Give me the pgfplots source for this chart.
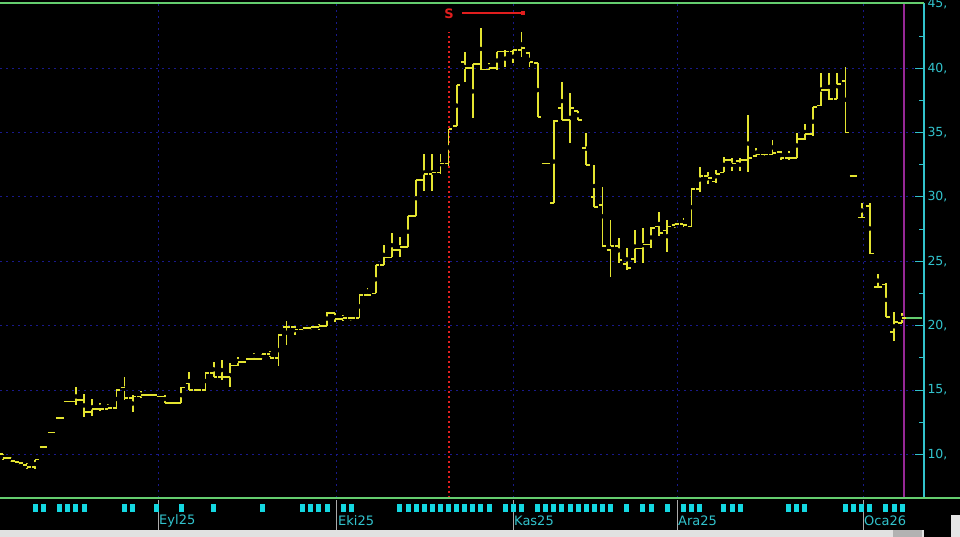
\documentclass[border=0pt]{standalone}
\usepackage{pgfplots}
\usepackage{pgfplotstable}
\pgfplotsset{compat=1.18}
\usepackage{fontspec}
\setmainfont{DejaVu Sans}
\definecolor{ylw}{RGB}{228,228,48}
\definecolor{tcyan}{RGB}{50,195,205}
\definecolor{mcyan}{RGB}{20,215,225}
\definecolor{gridblue}{RGB}{25,25,140}
\definecolor{lgreen}{RGB}{100,205,110}
\definecolor{sred}{RGB}{225,30,30}
\definecolor{purp}{RGB}{150,40,150}
\definecolor{sepgray}{RGB}{170,170,170}
\definecolor{sbgray}{RGB}{225,225,225}
\pgfdeclareplotmark{otick}{\pgfpathmoveto{\pgfqpoint{-\pgfplotmarksize}{0pt}}\pgfpathlineto{\pgfqpoint{0pt}{0pt}}\pgfusepathqstroke}
\pgfdeclareplotmark{ctick}{\pgfpathmoveto{\pgfqpoint{0pt}{0pt}}\pgfpathlineto{\pgfqpoint{\pgfplotmarksize}{0pt}}\pgfusepathqstroke}
\pgfdeclareplotmark{cbar}{\pgfpathrectangle{\pgfqpoint{-2.5pt}{-4pt}}{\pgfqpoint{5pt}{8pt}}\pgfusepathqfill}
\pgfplotstableread{
i o h l c
0 10.0 10.0 9.6 9.7
1 9.7 9.8 9.4 9.5
2 9.4 9.5 9.2 9.3
3 9.2 9.3 8.9 9.0
4 9.0 9.6 8.9 9.6
5 10.6 10.6 10.6 10.6
6 11.7 11.7 11.7 11.7
7 12.85 12.85 12.85 12.85
8 14.1 14.1 14.1 14.1
9 14.1 15.2 13.8 14.2
10 14.2 14.7 12.9 13.3
11 13.3 14.3 13.0 13.5
12 13.5 14.0 13.4 13.5
13 13.5 13.9 13.5 13.6
14 13.6 15.1 13.5 15.0
15 15.2 16.0 14.2 14.4
16 14.4 14.6 13.3 14.5
17 14.5 14.9 14.4 14.6
18 14.6 14.7 14.5 14.6
19 14.6 14.6 14.4 14.5
20 14.5 14.6 14.0 14.0
21 14.0 14.1 13.9 14.0
22 14.0 15.2 14.0 15.2
23 15.5 16.4 15.0 15.0
24 15.0 15.1 14.9 15.0
25 15.0 16.4 15.0 16.3
26 16.3 17.2 16.0 16.0
27 16.0 17.3 15.8 16.0
28 16.0 17.1 15.2 16.9
29 16.9 17.6 16.9 17.2
30 17.2 17.4 17.2 17.4
31 17.4 17.9 17.4 17.4
32 17.4 17.8 17.4 17.8
33 17.8 18.0 17.6 17.5
34 17.5 19.3 16.9 19.3
35 19.9 20.4 18.5 19.9
36 19.9 20.0 19.3 19.7
37 19.7 19.9 19.6 19.8
38 19.8 20.0 19.7 19.9
39 19.9 20.1 19.7 20.0
40 20.0 21.1 20.0 21.0
41 21.0 21.0 20.3 20.5
42 20.5 20.8 20.4 20.6
43 20.6 20.7 20.4 20.6
44 20.6 22.4 20.6 22.4
45 22.4 22.9 22.4 22.4
46 22.5 24.7 22.5 24.7
47 24.7 26.3 24.7 25.3
48 25.3 27.2 25.3 25.9
49 25.9 26.9 25.3 26.1
50 26.1 28.5 26.1 28.5
51 28.5 31.3 28.5 31.3
52 31.3 33.3 30.5 31.8
53 31.8 33.3 30.5 31.9
54 31.9 33.3 31.8 32.6
55 32.6 35.3 32.4 35.3
56 35.5 38.7 35.5 38.7
57 40.5 41.3 38.9 40.0
58 40.0 40.3 36.1 40.3
59 40.3 43.1 39.9 39.9
60 39.9 40.4 39.9 40.0
61 40.0 41.3 39.9 41.3
62 41.3 41.4 40.1 41.3
63 41.3 41.4 40.4 41.4
64 41.4 42.8 40.9 41.6
65 41.2 41.2 40.1 40.5
66 40.4 40.4 36.2 36.2
67 32.6 32.6 32.6 32.6
68 29.5 36.0 29.5 35.9
69 36.9 38.9 36.0 36.0
70 36.0 38.1 34.2 36.9
71 36.7 36.7 36.0 36.0
72 33.8 35.0 32.5 32.5
73 30.0 32.5 29.2 29.2
74 29.4 30.8 26.2 26.2
75 25.9 28.2 23.8 26.2
76 26.2 26.8 24.9 25.1
77 24.8 26.0 24.3 24.5
78 25.2 27.4 24.9 26.0
79 26.0 27.6 24.9 26.3
80 26.3 27.7 26.0 27.6
81 27.7 28.8 27.0 27.2
82 27.4 28.2 25.7 27.7
83 27.8 28.0 27.6 27.9
84 27.9 28.4 27.7 27.8
85 27.7 30.7 27.7 30.6
86 30.6 32.3 30.4 31.6
87 31.6 31.9 31.0 31.5
88 31.2 32.1 31.1 31.8
89 31.9 33.1 31.9 32.9
90 32.9 33.0 32.0 32.6
91 32.8 33.0 32.0 32.9
92 32.9 36.4 31.9 33.0
93 33.2 33.8 33.1 33.3
94 33.3 33.6 33.2 33.3
95 33.3 34.4 33.3 33.4
96 33.5 33.6 32.9 33.0
97 33.0 33.6 32.9 33.0
98 33.0 35.0 33.0 34.5
99 34.5 35.7 34.4 34.9
100 34.9 37.0 34.7 37.0
101 37.1 39.6 37.1 38.3
102 38.3 39.6 37.5 37.6
103 37.6 39.6 37.6 38.8
104 39.0 40.1 35.0 35.0
105 31.6 31.6 31.6 31.6
106 28.4 29.5 28.4 28.4
107 29.3 29.5 25.6 25.6
108 23.0 24.0 23.0 23.0
109 23.2 23.3 20.7 20.7
110 19.5 21.1 18.8 20.3
111 20.2 21.0 20.2 20.6
}\ohlc
\begin{document}
\begin{tikzpicture}[x=1pt,y=1pt]
\fill[black] (0,0) rectangle (960,537);
\useasboundingbox (0,0) rectangle (960,537);
\begin{axis}[
  at={(0pt,39pt)}, anchor=south west, scale only axis,
  width=924pt, height=495pt,
  xmin=-0.37, xmax=113.7, ymin=6.61, ymax=45.07,
  axis background/.style={fill=black},
  axis line style={draw=none},
  xtick=\empty,
  ytick={10,15,20,25,30,35,40,45},
  minor ytick={12.5,17.5,22.5,27.5,32.5,37.5,42.5},
  yticklabels={{10,},{15,},{20,},{25,},{30,},{35,},{40,},{45,}},
  ytick pos=right, yticklabel pos=right, tick align=inside,
  ytick style={draw=tcyan, line width=1pt},
  major tick length=9pt, minor tick length=5pt,
  yticklabel style={font=\fontsize{12.5}{13}\selectfont, text=tcyan},
  ymajorgrids,
  major grid style={draw=gridblue, dash pattern=on 2pt off 4pt, line width=1pt},
]
\addplot[forget plot, gridblue, dash pattern=on 2pt off 4pt, line width=1pt] coordinates {(19.14,6.61) (19.14,45.07)};
\addplot[forget plot, gridblue, dash pattern=on 2pt off 4pt, line width=1pt] coordinates {(41.23,6.61) (41.23,45.07)};
\addplot[forget plot, gridblue, dash pattern=on 2pt off 4pt, line width=1pt] coordinates {(62.96,6.61) (62.96,45.07)};
\addplot[forget plot, gridblue, dash pattern=on 2pt off 4pt, line width=1pt] coordinates {(83.21,6.61) (83.21,45.07)};
\addplot[forget plot, gridblue, dash pattern=on 2pt off 4pt, line width=1pt] coordinates {(106.17,6.61) (106.17,45.07)};
\addplot[sred, line width=1.2pt, dash pattern=on 2pt off 3pt] coordinates {(55.06,6.61) (55.06,42.8)};
\addplot[purp, line width=1.5pt] coordinates {(111.2,6.61) (111.2,45.07)};
\addplot[only marks, mark=none, error bars/.cd, y dir=both, y explicit,
  error mark=none, error bar style={draw=ylw, line width=1.8pt, solid}]
  table[x=i, y expr=(\thisrow{h}+\thisrow{l})/2, y error expr=(\thisrow{h}-\thisrow{l})/2] {\ohlc};
\addplot[only marks, mark=otick, mark size=3.8pt, draw=ylw, line width=1.8pt] table[x=i, y=o] {\ohlc};
\addplot[only marks, mark=ctick, mark size=3.8pt, draw=ylw, line width=1.8pt] table[x=i, y=c] {\ohlc};
\addplot[lgreen, line width=1.5pt] coordinates {(111.2,20.6) (113.5,20.6)};
\addplot[sred, line width=1.2pt, mark=square*, mark size=1.6pt, mark indices={2}] coordinates {(56.7,44.3) (64.2,44.3)};
\node[text=sred, font=\fontsize{13}{13}\selectfont\bfseries] at (axis cs:55.06,44.2) {S};
\end{axis}
\draw[tcyan, line width=1.3pt] (924,39) -- (924,534);
\draw[lgreen, line width=1.5pt] (0,534) -- (924,534);
\begin{axis}[
  at={(0pt,0pt)}, anchor=south west, scale only axis,
  width=924pt, height=39pt,
  xmin=-0.37, xmax=113.7, ymin=0, ymax=39,
  axis line style={draw=none},
  ytick=\empty,
  xtick={19.14,41.23,62.96,83.21,106.17},
  xticklabels={Eyl25,Eki25,Kas25,Ara25,Oca26},
  xtick style={draw=none},
  xmajorgrids,
  major grid style={draw=sepgray, line width=1pt, solid},
  xticklabel style={anchor=west, font=\fontsize{13}{13}\selectfont, text=tcyan, yshift=16.5pt, xshift=0pt, inner sep=1pt},
]
\addplot[only marks, mark=cbar, color=mcyan] coordinates {
(4,29) (5,29) (7,29) (8,29) (9,29) (10,29) (15,29) (16,29) (19,29)
(22,29) (26,29) (32,29) (37,29) (38,29) (39,29) (40,29) (42,29) (43,29)
(49,29) (50,29) (51,29) (52,29) (53,29) (54,29) (55,29) (56,29) (57,29) (58,29)
(59,29) (60,29) (62,29) (63,29) (64,29) (66,29) (67,29) (68,29) (69,29) (70,29)
(71,29) (72,29) (73,29) (74,29) (75,29) (77,29) (79,29) (80,29) (82,29)
(84,29) (85,29) (86,29) (89,29) (90,29) (91,29) (97,29) (98,29) (99,29)
(104,29) (105,29) (106,29) (107,29) (109,29) (110,29) (111,29)};
\end{axis}
\fill[black] (0,37) rectangle (960,39);
\draw[lgreen, line width=1.5pt] (0,39) -- (960,39);
\fill[sbgray] (0,0) rectangle (924,7);
\fill[gray!60] (893,0) rectangle (922,7);
\fill[gray!20] (951,0) rectangle (960,22);
\end{tikzpicture}
\end{document}
